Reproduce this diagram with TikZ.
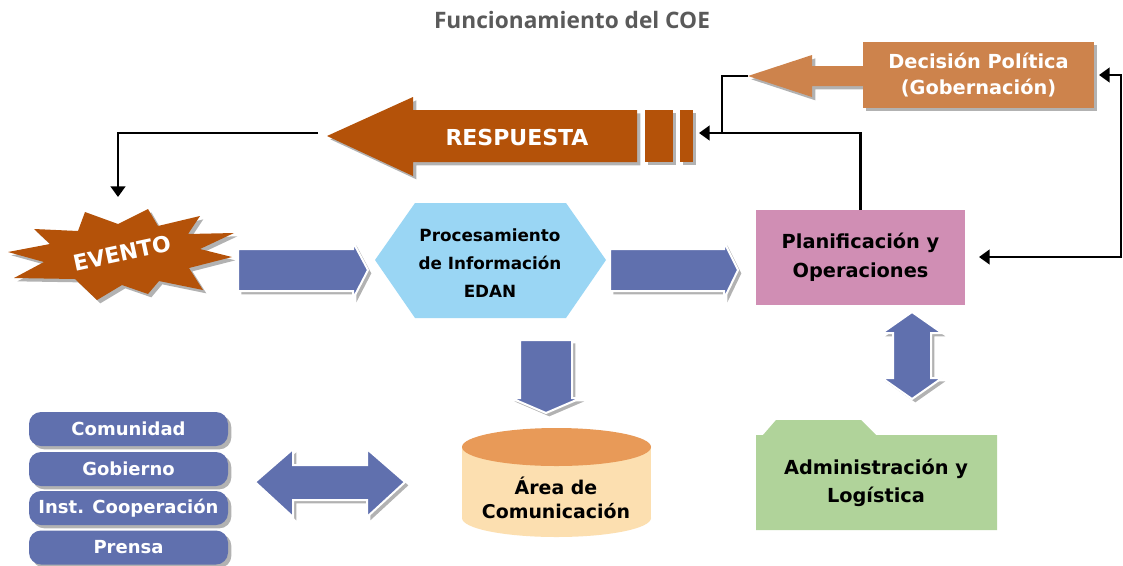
\documentclass[tikz,border=0pt]{standalone}
\usepackage{fontspec}
\setmainfont{DejaVu Sans}
\newfontfamily\titlefont{Open Sans}
\usetikzlibrary{shadows,arrows.meta}
\definecolor{bluefill}{HTML}{6070AE}
\definecolor{respcol}{HTML}{B45209}
\definecolor{deccol}{HTML}{CD834C}
\definecolor{hexcol}{HTML}{9AD6F4}
\definecolor{plancol}{HTML}{D08EB4}
\definecolor{cyltop}{HTML}{E89A58}
\definecolor{cylbody}{HTML}{FCDFB0}
\definecolor{admincol}{HTML}{B0D39A}
\definecolor{titlegray}{HTML}{5A5A5A}
\begin{document}
\begin{tikzpicture}[x=0.75pt,y=-0.75pt,
  shad/.style={drop shadow={shadow xshift=2.5pt,shadow yshift=-2.5pt,opacity=0.3,fill=black}},
  blk/.style={draw=white,line width=1.5pt,fill=bluefill,shad},
  cline/.style={line width=1.8pt},
  conn/.style={cline,-{Triangle[width=11pt,length=8pt]}},
  fs/.style n args={2}{font=\bfseries\fontsize{#1}{#2}\selectfont,align=center},
  stackbox/.style={fill=bluefill,shad,rounded corners=9pt,minimum width=149.25pt,minimum height=25.5pt,text=white,inner sep=0pt,font=\bfseries\fontsize{13.5}{16}\selectfont}
]
\useasboundingbox (0,0) rectangle (1123,565);
\fill[white] (0,0) rectangle (1123,565);

% title
\node[font=\titlefont\bfseries\fontsize{17}{19}\selectfont,text=titlegray] (title) at (572,20) {Funcionamiento del COE};

% Decision politica
\fill[deccol,shad] (748,76) -- (812,55) -- (812,66) -- (863,66) -- (863,86) -- (812,86) -- (812,97) -- cycle;
\node[fill=deccol,shad,minimum width=173.25pt,minimum height=49.5pt,text=white,fs={14.5}{19}] (dec) at (978.5,75) {Decisión Política\\(Gobernación)};
\coordinate (dectip) at (748,76);

% RESPUESTA arrow
\fill[respcol,shad] (327,136) -- (413,97) -- (413,110) -- (637,110) -- (637,162) -- (413,162) -- (413,176) -- cycle;
\fill[respcol,shad] (645,110) rectangle (673,162);
\fill[respcol,shad] (680,110) rectangle (693,162);
\node[text=white,font=\bfseries\fontsize{16.5}{18}\selectfont] (resp) at (517,137) {RESPUESTA};
\coordinate (resptip) at (318,133);
\coordinate (resptail) at (699,133);

% EVENTO
\fill[respcol,shad] (8,252) -- (50,244) -- (34,229) -- (78,231) -- (85,212) -- (118,224) -- (148,209) -- (158,226) -- (200,216) -- (188,234) -- (234,233) -- (200,249) -- (232,257) -- (189,268) -- (203,290) -- (159,281) -- (148,294) -- (122,285) -- (97,300) -- (75,279) -- (14,278) -- (44,262) -- cycle;
\node[rotate=12,text=white,font=\bfseries\fontsize{16.5}{18}\selectfont] (evento) at (122,253) {EVENTO};
\coordinate (evtop) at (118,197);

% Procesamiento hexagon
\fill[hexcol] (375,260) -- (415,203) -- (566,203) -- (606,260) -- (566,318) -- (415,318) -- cycle;
\node[fs={12.6}{21}] (proc) at (490,263) {Procesamiento\\de Información\\EDAN};

% Planificacion
\node[fill=plancol,minimum width=156.75pt,minimum height=71.25pt,fs={14.5}{21.5}] (plan) at (860.5,257.5) {Planificación y\\Operaciones};
\coordinate (planin) at (979,257);
\coordinate (decin) at (1099,75);

% Area de Comunicacion cylinder
\fill[cylbody] (462,447) rectangle (651,518);
\fill[cylbody] (556.5,518) ellipse [x radius=94.5, y radius=19];
\fill[cyltop] (556.5,447) ellipse [x radius=94.5, y radius=19];
\node[fs={14.2}{17.5}] (comm) at (556,498) {Área de\\Comunicación};

% Administracion folder
\fill[admincol] (756,435) -- (763,435) -- (776,420) -- (861,420) -- (876,435) -- (997,435) -- (997,530) -- (756,530) -- cycle;
\node[fs={14.5}{20.5}] (admin) at (876,483) {Administración y\\Logística};

% stack
\node[stackbox] (comunidad) at (128.5,429) {Comunidad};
\node[stackbox] (gobierno) at (128.5,469) {Gobierno};
\node[stackbox] (inst) at (128.5,508) {Inst. Cooperación};
\node[stackbox] (prensa) at (128.5,547.5) {Prensa};

% blue block arrows
\path[blk] (238,249) -- (353,249) -- (353,242) -- (368,270) -- (353,299) -- (353,291) -- (238,291) -- cycle;
\path[blk] (610,249) -- (724,249) -- (724,242) -- (738,270) -- (724,299) -- (724,291) -- (610,291) -- cycle;
\path[blk] (520,340) -- (572,340) -- (572,398) -- (581,398) -- (546,413) -- (511,398) -- (520,398) -- cycle;
\path[blk] (912,312) -- (942,333) -- (931,333) -- (931,378) -- (942,378) -- (912,399) -- (882,378) -- (893,378) -- (893,333) -- (882,333) -- cycle;
\path[blk] (255,482) -- (293,449) -- (293,465) -- (367,465) -- (367,449) -- (405,482) -- (367,517) -- (367,500) -- (293,500) -- (293,517) -- cycle;

% connectors
\draw[cline] (dectip) -| (722,133);
\draw[conn] (plan.north) |- (resptail);
\draw[conn] (resptip) -| (evtop);
\draw[cline,{Triangle[width=11pt,length=8pt]}-{Triangle[width=11pt,length=8pt]}] (decin) -- (1121,75) |- (planin);
\end{tikzpicture}
\end{document}
